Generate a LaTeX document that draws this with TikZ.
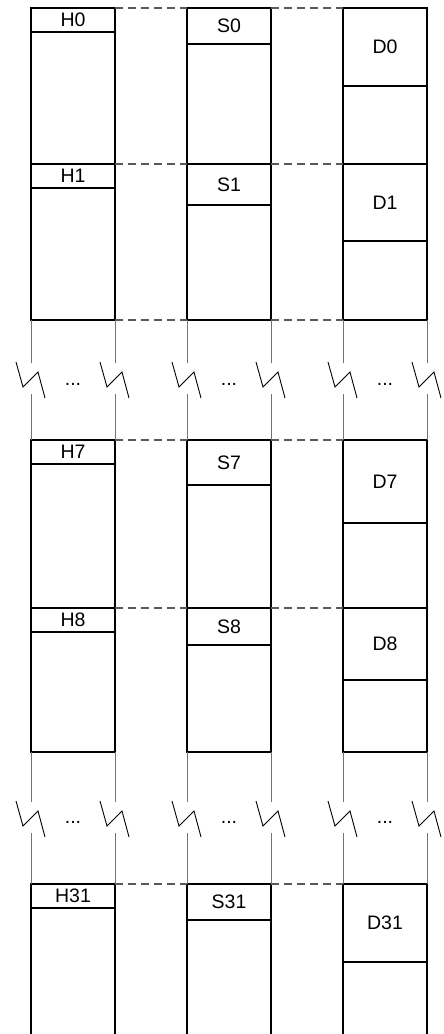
\documentclass[tikz,border=0pt]{standalone}
\usepackage{fontspec}
\setmainfont{Liberation Sans}
\usepackage{tikz}
\usetikzlibrary{positioning}

\begin{document}
\begin{tikzpicture}[x=1pt,y=-1pt]
        \tikzset{Block/.style={%
            shape=rectangle,%
            draw=black,%
            line width=1.3pt,%
            minimum width=84pt,%
            inner sep=0pt,%
            outer sep=0pt,%
        }}
        \tikzset{Head/.style={%
            Block,%
            anchor=north,%
            font=\fontsize{19.5}{22}\selectfont,%
        }}
        \tikzset{Link/.style={%
            draw=black!65,%
            line width=1.1pt,%
            dash pattern=on 8pt off 5pt,%
        }}
        \tikzset{Gap/.style={draw=black!55, line width=1pt}}
        \tikzset{Zig/.style={draw=black, line width=0.9pt}}
        \tikzset{Dots/.style={inner sep=0pt, font=\fontsize{19.5}{22}\selectfont}}

        \useasboundingbox (0,0) rectangle (444,1034);
        \clip (0,0) rectangle (444,1034);

        % blocks
        \node[Block, minimum height=156pt, anchor=north west] (bh0) at (31,8) {};
        \node[Block, minimum height=156pt, right=72pt of bh0] (bs0) {};
        \node[Block, minimum height=156pt, right=72pt of bs0] (bd0) {};
        \node[Block, minimum height=156pt, below=0pt of bh0] (bh1) {};
        \node[Block, minimum height=156pt, right=72pt of bh1] (bs1) {};
        \node[Block, minimum height=156pt, right=72pt of bs1] (bd1) {};
        \node[Block, minimum height=168pt, anchor=north west] (bh7) at (31,440) {};
        \node[Block, minimum height=168pt, right=72pt of bh7] (bs7) {};
        \node[Block, minimum height=168pt, right=72pt of bs7] (bd7) {};
        \node[Block, minimum height=144pt, below=0pt of bh7] (bh8) {};
        \node[Block, minimum height=144pt, right=72pt of bh8] (bs8) {};
        \node[Block, minimum height=144pt, right=72pt of bs8] (bd8) {};
        \node[Block, minimum height=160pt, anchor=north west] (bh31) at (31,884) {};
        \node[Block, minimum height=160pt, right=72pt of bh31] (bs31) {};
        \node[Block, minimum height=160pt, right=72pt of bs31] (bd31) {};

        % headers
        \node[Head, minimum height=24pt] (h0) at (bh0.north) {H0};
        \node[Head, minimum height=36pt] (s0) at (bs0.north) {S0};
        \node[Head, minimum height=78pt] (d0) at (bd0.north) {D0};
        \node[Head, minimum height=24pt] (h1) at (bh1.north) {H1};
        \node[Head, minimum height=41pt] (s1) at (bs1.north) {S1};
        \node[Head, minimum height=77pt] (d1) at (bd1.north) {D1};
        \node[Head, minimum height=24pt] (h7) at (bh7.north) {H7};
        \node[Head, minimum height=45pt] (s7) at (bs7.north) {S7};
        \node[Head, minimum height=83pt] (d7) at (bd7.north) {D7};
        \node[Head, minimum height=24pt] (h8) at (bh8.north) {H8};
        \node[Head, minimum height=37pt] (s8) at (bs8.north) {S8};
        \node[Head, minimum height=72pt] (d8) at (bd8.north) {D8};
        \node[Head, minimum height=24pt] (h31) at (bh31.north) {H31};
        \node[Head, minimum height=36pt] (s31) at (bs31.north) {S31};
        \node[Head, minimum height=78pt] (d31) at (bd31.north) {D31};

        % dashed ties
        \path (bh0.north east) edge[Link] (bs0.north west);
        \path (bs0.north east) edge[Link] (bd0.north west);
        \path (bh1.north east) edge[Link] (bs1.north west);
        \path (bs1.north east) edge[Link] (bd1.north west);
        \path (bh1.south east) edge[Link] (bs1.south west);
        \path (bs1.south east) edge[Link] (bd1.south west);
        \path (bh7.north east) edge[Link] (bs7.north west);
        \path (bs7.north east) edge[Link] (bd7.north west);
        \path (bh8.north east) edge[Link] (bs8.north west);
        \path (bs8.north east) edge[Link] (bd8.north west);
        \path (bh31.north east) edge[Link] (bs31.north west);
        \path (bs31.north east) edge[Link] (bd31.north west);

        % breaks
        \coordinate (u1) at (31,381);
        \coordinate (u2) at (115,381);
        \coordinate (u3) at (187,381);
        \coordinate (u4) at (271,381);
        \coordinate (u5) at (343,381);
        \coordinate (u6) at (427,381);
        \coordinate (l1) at (31,820);
        \coordinate (l2) at (115,820);
        \coordinate (l3) at (187,820);
        \coordinate (l4) at (271,820);
        \coordinate (l5) at (343,820);
        \coordinate (l6) at (427,820);

        \draw[Gap] (bh1.south west) -- ([yshift=18pt]u1) ([yshift=-13pt]u1) -- (bh7.north west);
        \draw[Gap] (bh1.south east) -- ([yshift=18pt]u2) ([yshift=-13pt]u2) -- (bh7.north east);
        \draw[Gap] (bs1.south west) -- ([yshift=18pt]u3) ([yshift=-13pt]u3) -- (bs7.north west);
        \draw[Gap] (bs1.south east) -- ([yshift=18pt]u4) ([yshift=-13pt]u4) -- (bs7.north east);
        \draw[Gap] (bd1.south west) -- ([yshift=18pt]u5) ([yshift=-13pt]u5) -- (bd7.north west);
        \draw[Gap] (bd1.south east) -- ([yshift=18pt]u6) ([yshift=-13pt]u6) -- (bd7.north east);
        \draw[Gap] (bh8.south west) -- ([yshift=18pt]l1) ([yshift=-13pt]l1) -- (bh31.north west);
        \draw[Gap] (bh8.south east) -- ([yshift=18pt]l2) ([yshift=-13pt]l2) -- (bh31.north east);
        \draw[Gap] (bs8.south west) -- ([yshift=18pt]l3) ([yshift=-13pt]l3) -- (bs31.north west);
        \draw[Gap] (bs8.south east) -- ([yshift=18pt]l4) ([yshift=-13pt]l4) -- (bs31.north east);
        \draw[Gap] (bd8.south west) -- ([yshift=18pt]l5) ([yshift=-13pt]l5) -- (bd31.north west);
        \draw[Gap] (bd8.south east) -- ([yshift=18pt]l6) ([yshift=-13pt]l6) -- (bd31.north east);

        \draw[Zig] (u1) ++(-15,-19) -- ++(7,25) -- ++(15,-15) -- ++(7,26);
        \draw[Zig] (u2) ++(-15,-19) -- ++(7,25) -- ++(15,-15) -- ++(7,26);
        \draw[Zig] (u3) ++(-15,-19) -- ++(7,25) -- ++(15,-15) -- ++(7,26);
        \draw[Zig] (u4) ++(-15,-19) -- ++(7,25) -- ++(15,-15) -- ++(7,26);
        \draw[Zig] (u5) ++(-15,-19) -- ++(7,25) -- ++(15,-15) -- ++(7,26);
        \draw[Zig] (u6) ++(-15,-19) -- ++(7,25) -- ++(15,-15) -- ++(7,26);
        \draw[Zig] (l1) ++(-15,-19) -- ++(7,25) -- ++(15,-15) -- ++(7,26);
        \draw[Zig] (l2) ++(-15,-19) -- ++(7,25) -- ++(15,-15) -- ++(7,26);
        \draw[Zig] (l3) ++(-15,-19) -- ++(7,25) -- ++(15,-15) -- ++(7,26);
        \draw[Zig] (l4) ++(-15,-19) -- ++(7,25) -- ++(15,-15) -- ++(7,26);
        \draw[Zig] (l5) ++(-15,-19) -- ++(7,25) -- ++(15,-15) -- ++(7,26);
        \draw[Zig] (l6) ++(-15,-19) -- ++(7,25) -- ++(15,-15) -- ++(7,26);

        \node[Dots] (eh1) at (73,384) {...};
        \node[Dots] (es1) at (229,384) {...};
        \node[Dots] (ed1) at (385,384) {...};
        \node[Dots] (eh2) at (73,822) {...};
        \node[Dots] (es2) at (229,822) {...};
        \node[Dots] (ed2) at (385,822) {...};
\end{tikzpicture}
\end{document}
